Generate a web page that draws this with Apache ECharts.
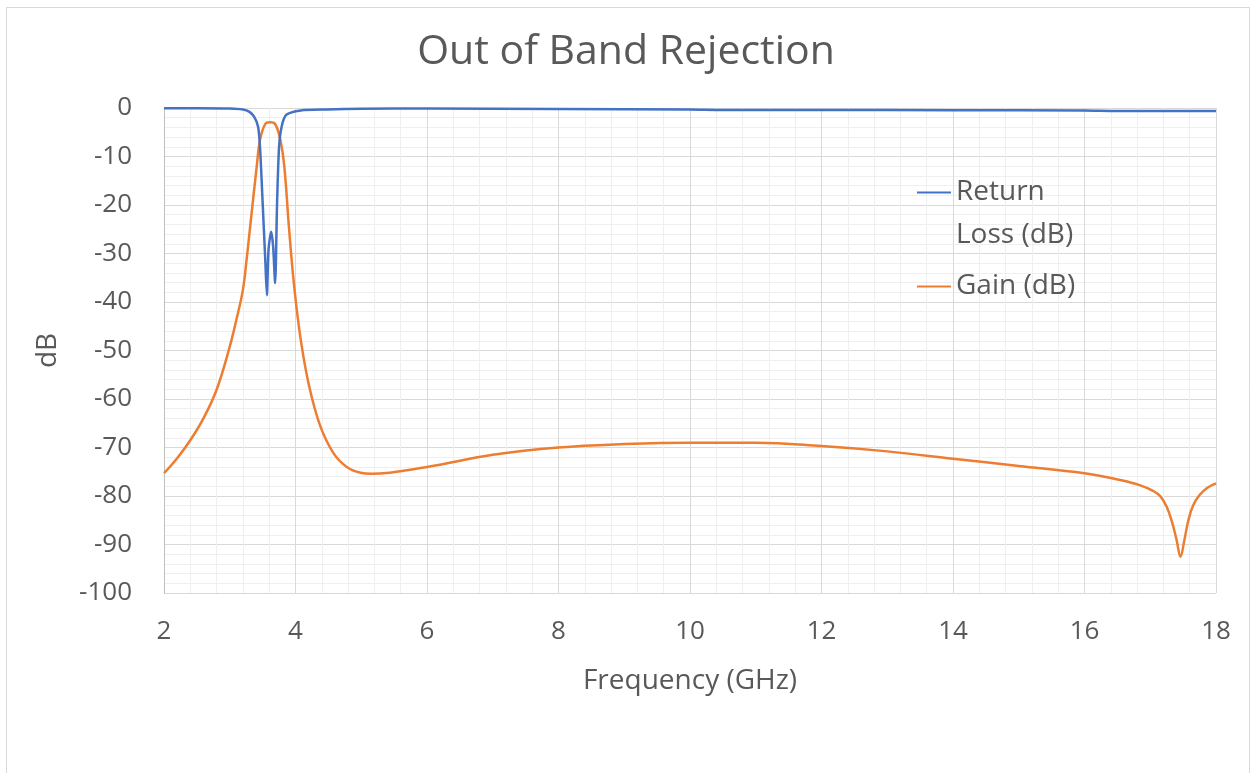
<!DOCTYPE html>
<html>
<head>
<meta charset="utf-8">
<script src="https://cdn.jsdelivr.net/npm/echarts@6/dist/echarts.min.js"></script>
<style>
html,body{margin:0;padding:0;background:#fff;}
#chart{width:1252px;height:773px;}
</style>
</head>
<body>
<div id="chart"></div>
<script>
// Return loss (dB) vs frequency (GHz)
var rlFreq = [2, 2.5, 3, 3.2, 3.3, 3.37, 3.43, 3.46, 3.5, 3.54, 3.565, 3.59, 3.63, 3.66, 3.69, 3.72, 3.75, 3.79, 3.86, 4.08, 4.48, 5, 6, 8, 10, 10.5, 12, 14, 16, 16.5, 18];
var rlVals = [-0.05, -0.05, -0.1, -0.3, -0.8, -1.8, -3.8, -8, -19.4, -31.3, -38.6, -29.2, -25.5, -28.6, -36.1, -19.4, -8, -3.8, -1.4, -0.5, -0.3, -0.15, -0.1, -0.2, -0.3, -0.4, -0.4, -0.45, -0.5, -0.6, -0.6];
// Gain (dB) vs frequency (GHz)
var gainFreq = [2, 2.2, 2.4, 2.6, 2.8, 3.0, 3.1, 3.2, 3.26, 3.31, 3.41, 3.46, 3.54, 3.61, 3.69, 3.77, 3.83, 3.9, 3.98, 4.08, 4.21, 4.38, 4.58, 4.78, 4.99, 5.15, 6, 7, 8, 9, 10, 11, 12, 13, 14, 15, 16, 16.54, 16.85, 17.05, 17.15, 17.25, 17.33, 17.4, 17.46, 17.52, 17.58, 17.65, 17.75, 17.87, 18];
var gainVals = [-75.3, -72.2, -68.5, -64, -58.1, -49.2, -43.7, -37.5, -30.8, -24.5, -12.1, -6.6, -3.3, -2.95, -3.3, -6.6, -12.1, -24.5, -36.8, -47.8, -57.5, -65.7, -71.2, -74, -75.2, -75.4, -74, -71.5, -70, -69.3, -69, -69, -69.7, -70.8, -72.3, -73.8, -75.3, -76.7, -77.8, -79, -80, -82.2, -85.3, -89, -92.5, -89, -85, -82, -79.8, -78.3, -77.4];
var xTicks = [2, 4, 6, 8, 10, 12, 14, 16, 18];
var yTicks = [0, -10, -20, -30, -40, -50, -60, -70, -80, -90, -100];

function pairs(xs, ys){ return xs.map(function(x,i){ return [x, ys[i]]; }); }

var chart = echarts.init(document.getElementById('chart'));
var txt = '#595959';
var font = 'Open Sans';
chart.setOption({
  animation: false,
  backgroundColor: '#fff',
  title: {
    text: 'Out of Band Rejection',
    left: 'center', top: 27,
    textStyle: {fontFamily: font, fontSize: 41, fontWeight: 'normal', color: txt}
  },
  graphic: [{
    type: 'rect', shape: {x: 6.5, y: 7.5, width: 1243, height: 800},
    style: {fill: 'none', stroke: '#d9d9d9', lineWidth: 1}, silent: true, z: -10
  }],
  legend: {
    orient: 'vertical', left: 917, top: 128, itemGap: 8, padding: 0,
    itemWidth: 34, itemHeight: 2,
    icon: 'rect',
    textStyle: {fontFamily: font, fontSize: 28, color: txt, lineHeight: 43},
    data: [
      {name: 'Return Loss (dB)'},
      {name: 'Gain (dB)'}
    ],
    formatter: function(n){ return n === 'Return Loss (dB)' ? '\nReturn\nLoss (dB)' : n; }
  },
  grid: {left: 164, right: 36, top: 108, bottom: 180, containLabel: false},
  xAxis: {
    type: 'value', min: 2, max: 18, interval: 2,
    name: 'Frequency (GHz)', nameLocation: 'middle', nameGap: 74,
    nameTextStyle: {fontFamily: font, fontSize: 28, color: txt},
    axisLine: {show: false},
    axisTick: {show: false},
    axisLabel: {fontFamily: font, fontSize: 26, color: txt, margin: 26,
      formatter: function(v){ return xTicks.indexOf(v) >= 0 ? String(v) : ''; }},
    splitLine: {show: true, lineStyle: {color: '#d9d9d9', width: 1}},
    minorTick: {show: false, splitNumber: 5},
    minorSplitLine: {show: true, lineStyle: {color: '#efefef', width: 1}}
  },
  yAxis: {
    type: 'value', min: -100, max: 0, interval: 10,
    name: 'dB', nameLocation: 'middle', nameGap: 102,
    nameTextStyle: {fontFamily: font, fontSize: 28, color: txt},
    axisLine: {show: true, lineStyle: {color: '#bfbfbf'}},
    axisTick: {show: false},
    axisLabel: {fontFamily: font, fontSize: 26, color: txt, margin: 32,
      formatter: function(v){ return yTicks.indexOf(v) >= 0 ? String(v) : ''; }},
    splitLine: {show: true, lineStyle: {color: '#d9d9d9', width: 1}},
    minorTick: {show: false, splitNumber: 5},
    minorSplitLine: {show: true, lineStyle: {color: '#efefef', width: 1}}
  },
  series: [
    {name: 'Return Loss (dB)', type: 'line', data: pairs(rlFreq, rlVals), showSymbol: false,
     smooth: 0.25, lineStyle: {color: '#4472C4', width: 2.5}, itemStyle: {color: '#4472C4'}, z: 3},
    {name: 'Gain (dB)', type: 'line', data: pairs(gainFreq, gainVals), showSymbol: false,
     smooth: 0.4, lineStyle: {color: '#ED7D31', width: 2.5}, itemStyle: {color: '#ED7D31'}, z: 2}
  ]
});
</script>
</body>
</html>
